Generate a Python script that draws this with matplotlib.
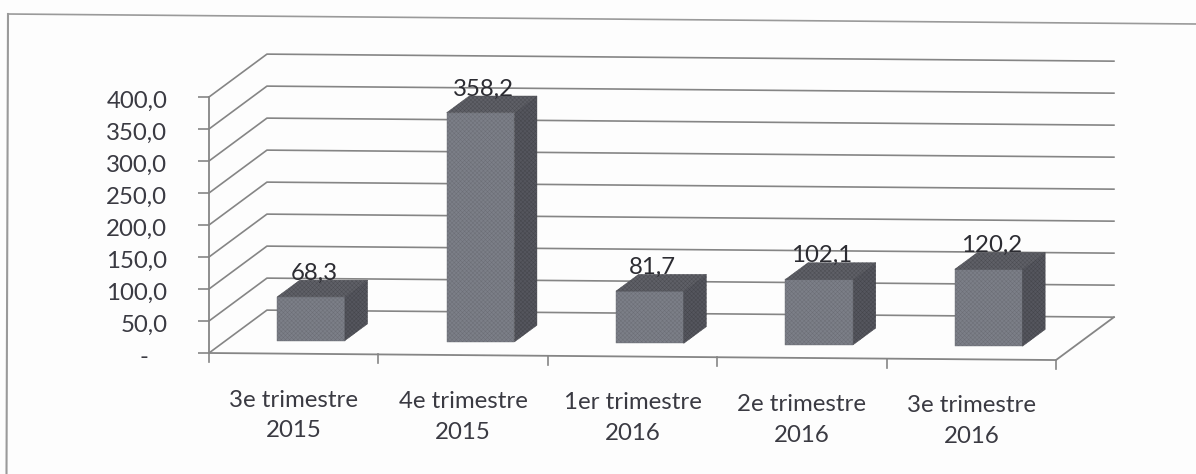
import matplotlib
matplotlib.use("Agg")
import matplotlib.pyplot as plt
from matplotlib.lines import Line2D
from matplotlib.patches import Polygon
from matplotlib.transforms import ScaledTranslation

quarters = ["3e trimestre\n2015", "4e trimestre\n2015", "1er trimestre\n2016", "2e trimestre\n2016", "3e trimestre\n2016"]
values = [68.3, 358.2, 81.7, 102.1, 120.2]
value_labels = ["68,3", "358,2", "81,7", "102,1", "120,2"]
y_ticks = [0, 50, 100, 150, 200, 250, 300, 350, 400]
y_labels = ["-   ", "50,0", "100,0", "150,0", "200,0", "250,0", "300,0", "350,0", "400,0"]

W, H = 1196, 474
FONT = "Lato"
TEXT = "#3a3a42"
GRID = "#858585"

# the 3d look: depth goes up and to the right, the whole floor leans down a little
DEPTH_X = 0.342
DEPTH_Y = 67
LEAN = 2.2
BAR_W = 0.40
BAR_FRONT = 0.30
BAR_BACK = 0.69


def proj(x, v, d=0):
    return x + DEPTH_X * d, v + DEPTH_Y * d - LEAN * x


def face(ax, pts, color, edge):
    ax.add_patch(Polygon(pts, closed=True, facecolor=color, edgecolor=edge, hatch="xxxxxxxx", linewidth=0.3, zorder=3, clip_on=False))


plt.rcParams["hatch.linewidth"] = 0.35
plt.rcParams["font.family"] = [FONT, "DejaVu Sans"]

fig = plt.figure(figsize=(W / 100, H / 100), dpi=100, facecolor="#fdfdfd")
ax = fig.add_axes([209 / W, (H - 353) / H, 847 / W, 256 / H])
ax.set_xlim(0, 5)
ax.set_ylim(0, 400)
ax.patch.set_visible(False)
for s in ["top", "right", "bottom", "left"]:
    ax.spines[s].set_visible(False)

# back wall, side wall and floor lines
for t in y_ticks:
    xs, ys = zip(proj(0, t), proj(0, t, 1), proj(5, t, 1))
    ax.plot(xs, ys, color=GRID, lw=1.2, zorder=1, clip_on=False)
xs, ys = zip(proj(0, 0), proj(5, 0), proj(5, 0, 1))
ax.plot(xs, ys, color=GRID, lw=1.3, zorder=2, clip_on=False)
ax.plot([0, 0], [0, 400], color=GRID, lw=1.3, zorder=2, clip_on=False)

# x ticks follow the lean of the floor
for i in range(6):
    x, y = proj(i, 0)
    ax.plot([x, x], [y, y - 14], color=GRID, lw=1.2, clip_on=False)

ax.set_xticks([])
ax.set_yticks(y_ticks)
ax.set_yticklabels(y_labels, fontsize=17.3, color=TEXT)
ax.tick_params(axis="y", length=8, width=1.2, color=GRID, pad=22)
# labels sit a little under their ticks in the scan
for label in ax.get_yticklabels():
    label.set_transform(label.get_transform() + ScaledTranslation(0, -2.5 / 100, fig.dpi_scale_trans))

for i, v in enumerate(values):
    left = i + 0.5 - BAR_W / 2
    # the floor is read at the bar's left corner so the bottom edge stays flat
    fx0, fy0 = proj(left, 0, BAR_FRONT)
    fx1 = fx0 + BAR_W
    bx = DEPTH_X * (BAR_BACK - BAR_FRONT)
    by = DEPTH_Y * (BAR_BACK - BAR_FRONT)
    face(ax, [(fx0, fy0), (fx1, fy0), (fx1, fy0 + v), (fx0, fy0 + v)], "#7c7f88", "#6c6e76")
    face(ax, [(fx1, fy0), (fx1 + bx, fy0 + by), (fx1 + bx, fy0 + v + by), (fx1, fy0 + v)], "#55565e", "#45464c")
    face(ax, [(fx0, fy0 + v), (fx1, fy0 + v), (fx1 + bx, fy0 + v + by), (fx0 + bx, fy0 + v + by)], "#5f6067", "#4c4d53")
    ax.annotate(value_labels[i], (fx0 + BAR_W / 2, fy0 + v), xytext=(2, 17), textcoords="offset points",
                ha="center", va="center", fontsize=17.3, color="#2c2c32", zorder=4, annotation_clip=False)

for i, q in enumerate(quarters):
    x, y = proj(i + 0.5, 0)
    ax.annotate(q, (x, y), xytext=(0, -44.5), textcoords="offset points", ha="center", va="center",
                fontsize=17.3, color=TEXT, linespacing=1.58, annotation_clip=False)

# scanned outer frame, slightly crooked
fig.add_artist(Line2D([8 / W, 1], [1 - 14 / H, 1 - 24 / H], color="#9a9a9a", lw=1.2))
fig.add_artist(Line2D([8 / W, 6.5 / W], [1 - 14 / H, 0], color="#9a9a9a", lw=1.5))

fig.savefig("out.png", dpi=100, facecolor=fig.get_facecolor())
